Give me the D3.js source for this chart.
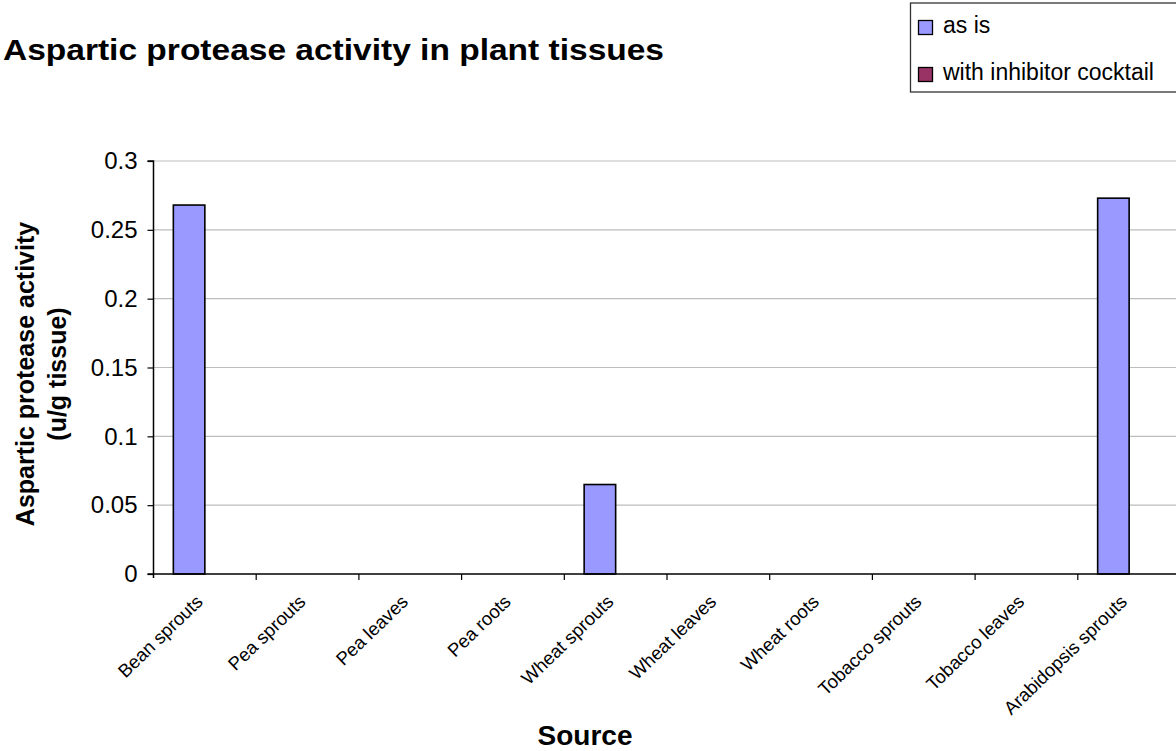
<!DOCTYPE html>
<html>
<head>
<meta charset="utf-8">
<script src="https://cdn.jsdelivr.net/npm/d3@7"></script>
<style>
  html, body { margin: 0; padding: 0; background: #fff; }
  svg { display: block; font-family: "Liberation Sans", Arial, sans-serif; }
</style>
</head>
<body>
<svg id="chart" width="1176" height="751"></svg>
<script>
// Tissue sources along the x axis
const categories = [
  "Bean sprouts", "Pea sprouts", "Pea leaves", "Pea roots", "Wheat sprouts",
  "Wheat leaves", "Wheat roots", "Tobacco sprouts", "Tobacco leaves", "Arabidopsis sprouts"
];
// Activity (u/g tissue) per series
const asIs = [0.268, 0, 0, 0, 0.065, 0, 0, 0, 0, 0.273];
const withInhibitor = [0, 0, 0, 0, 0, 0, 0, 0, 0, 0];
const seriesNames = ["as is", "with inhibitor cocktail"];
const seriesColors = ["#9999FF", "#993366"];
const yTicks = [0, 0.05, 0.1, 0.15, 0.2, 0.25, 0.3];

const svg = d3.select("#chart");

const plot = { left: 153.5, top: 161, right: 1180.5, bottom: 574 };

const x = d3.scaleBand()
  .domain(categories)
  .range([plot.left, plot.right])
  .paddingInner(0)
  .paddingOuter(0);

const y = d3.scaleLinear().domain([0, 0.3]).range([plot.bottom, plot.top]);

// Horizontal gridlines
svg.append("g")
  .selectAll("line")
  .data(yTicks.filter(d => d > 0))
  .join("line")
  .attr("x1", plot.left)
  .attr("x2", plot.right)
  .attr("y1", d => y(d))
  .attr("y2", d => y(d))
  .attr("stroke", "#bdbdbd")
  .attr("stroke-width", 1.2);

// Grouped bars: each category holds two bars centred on the band
const barW = 31.5;
const series = [asIs, withInhibitor];
series.forEach((vals, si) => {
  svg.append("g")
    .selectAll("rect")
    .data(vals.map((v, i) => ({ cat: categories[i], v })).filter(d => d.v > 0))
    .join("rect")
    .attr("x", d => x(d.cat) + x.bandwidth() / 2 - barW + si * barW)
    .attr("y", d => y(d.v))
    .attr("width", barW)
    .attr("height", d => y(0) - y(d.v))
    .attr("fill", seriesColors[si])
    .attr("stroke", "#000")
    .attr("stroke-width", 1.6);
});

// Y axis
const yAxis = d3.axisLeft(y)
  .tickValues(yTicks)
  .tickFormat(d => d3.format("")(+d.toFixed(2)))
  .tickSize(6)
  .tickPadding(10);
const yg = svg.append("g")
  .attr("transform", `translate(${plot.left},0)`)
  .call(yAxis);
yg.select(".domain").attr("stroke", "#000").attr("stroke-width", 1.5)
  .attr("d", `M-6,${plot.top}H0V${plot.bottom + 4}`);
yg.selectAll(".tick line").attr("stroke", "#000").attr("stroke-width", 1.2);
yg.selectAll(".tick text")
  .attr("font-size", 24)
  .attr("fill", "#000")
  .attr("font-family", "'Liberation Sans', Arial, sans-serif");

// X axis baseline with ticks at category boundaries
svg.append("line")
  .attr("x1", plot.left - 6).attr("x2", plot.right)
  .attr("y1", plot.bottom).attr("y2", plot.bottom)
  .attr("stroke", "#000").attr("stroke-width", 1.5);
svg.append("g")
  .selectAll("line")
  .data(categories.slice(1))
  .join("line")
  .attr("x1", d => x(d)).attr("x2", d => x(d))
  .attr("y1", plot.bottom).attr("y2", plot.bottom + 6)
  .attr("stroke", "#000").attr("stroke-width", 1.2);

// Rotated category labels
svg.append("g")
  .selectAll("text")
  .data(categories)
  .join("text")
  .attr("transform", d => `translate(${x(d) + x.bandwidth() / 2 - 1},${plot.bottom + 29}) rotate(-44)`)
  .attr("text-anchor", "end")
  .attr("font-size", 18.5)
  .attr("fill", "#000")
  .text(d => d);

// Titles
svg.append("text")
  .attr("x", 3).attr("y", 60)
  .attr("font-size", 30).attr("font-weight", "bold")
  .attr("fill", "#000")
  .attr("textLength", 661)
  .attr("lengthAdjust", "spacingAndGlyphs")
  .text("Aspartic protease activity in plant tissues");

svg.append("text")
  .attr("x", 585).attr("y", 745)
  .attr("text-anchor", "middle")
  .attr("font-size", 28).attr("font-weight", "bold")
  .attr("fill", "#000")
  .text("Source");

const yTitle = svg.append("text")
  .attr("transform", `translate(34,374) rotate(-90)`)
  .attr("text-anchor", "middle")
  .attr("font-size", 25).attr("font-weight", "bold")
  .attr("fill", "#000");
yTitle.append("tspan").attr("x", 0).attr("dy", 0).text("Aspartic protease activity");
yTitle.append("tspan").attr("x", 0).attr("dy", 32).text("(u/g tissue)");

// Legend
const legend = svg.append("g");
legend.append("rect")
  .attr("x", 910.5).attr("y", 3)
  .attr("width", 300).attr("height", 89)
  .attr("fill", "#fff")
  .attr("stroke", "#333").attr("stroke-width", 1.3);
const items = legend.selectAll("g.item")
  .data(seriesNames)
  .join("g")
  .attr("class", "item")
  .attr("transform", (d, i) => `translate(918.5,${20.5 + i * 47})`);
items.append("rect")
  .attr("width", 14).attr("height", 14)
  .attr("fill", (d, i) => seriesColors[i])
  .attr("stroke", "#000").attr("stroke-width", 1.3);
items.append("text")
  .attr("x", 24.5).attr("y", 12.5)
  .attr("font-size", 23)
  .attr("fill", "#000")
  .text(d => d);
</script>
</body>
</html>
